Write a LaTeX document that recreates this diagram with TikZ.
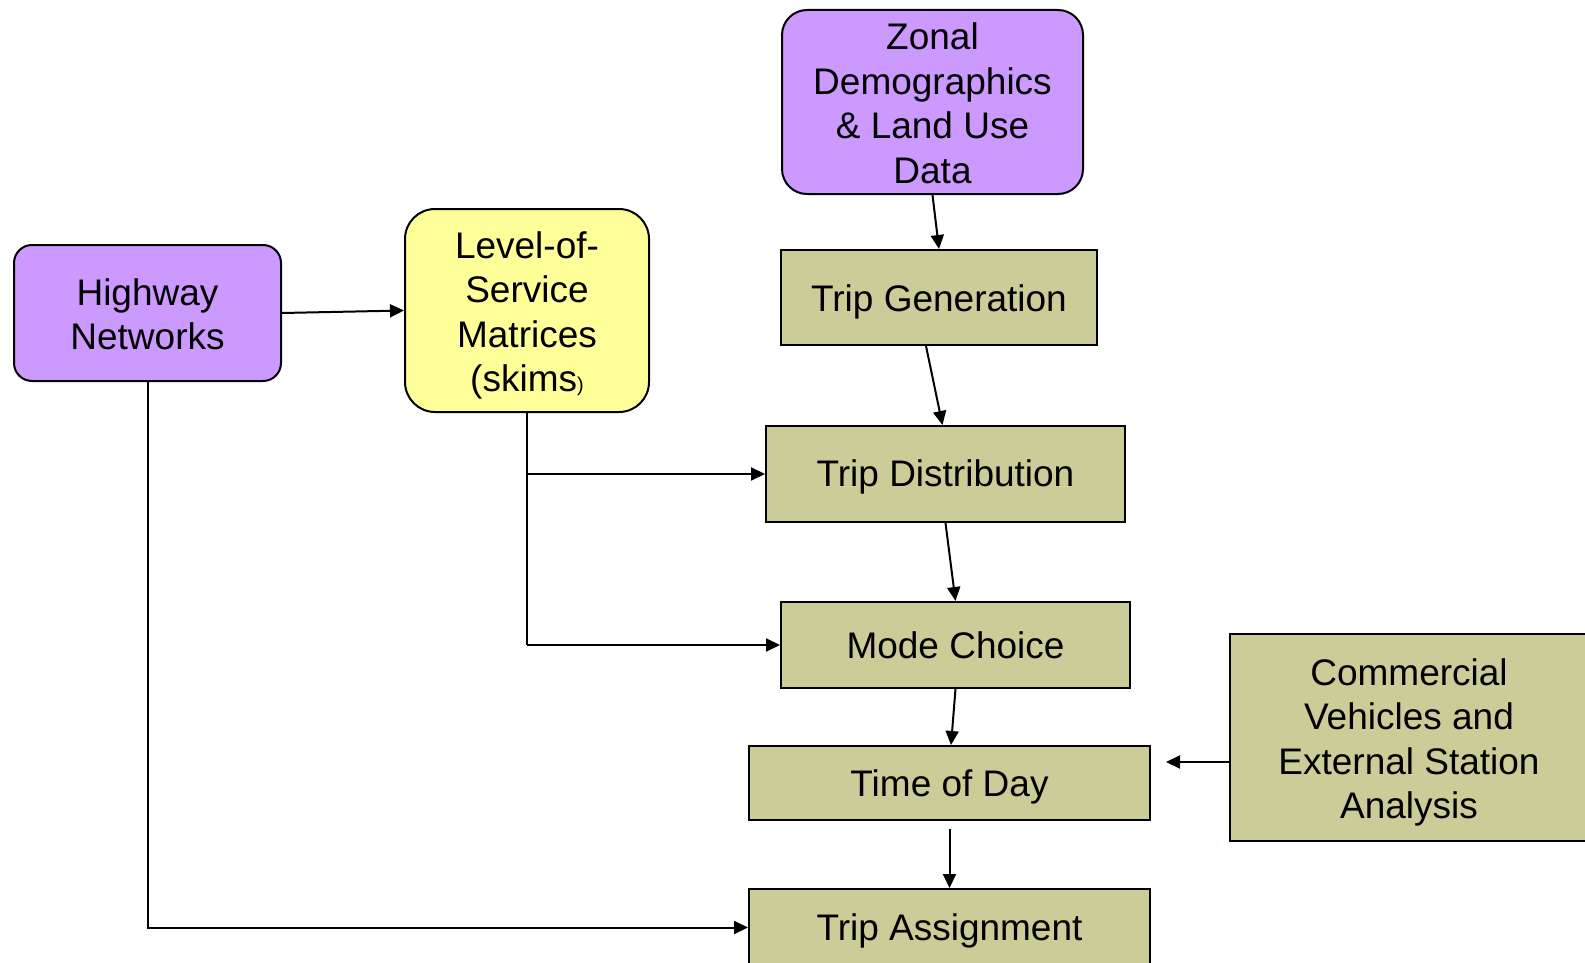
\documentclass[tikz,border=0pt]{standalone}
\usepackage{fontspec}
\setmainfont{Liberation Sans}
\usetikzlibrary{arrows.meta}
\definecolor{purp}{HTML}{CC99FF}
\definecolor{yel}{HTML}{FFFF99}
\definecolor{olive}{HTML}{CCCC99}
\begin{document}
\begin{tikzpicture}[x=1pt,y=-1pt,
  base/.style={draw=black,line width=2pt,inner sep=0pt},
  txt/.style={inner sep=0pt,align=center,font=\fontsize{37}{44.5}\selectfont},
  roundbox/.style={base,rectangle,rounded corners=#1},
  purpbox/.style={roundbox=#1,fill=purp},
  yelbox/.style={roundbox=#1,fill=yel},
  stagebox/.style={base,rectangle,fill=olive},
  conn/.style={line width=2pt,-{Triangle[length=14pt,width=13pt]}},
  plain/.style={line width=2pt}]
\useasboundingbox (0,0) rectangle (1585,963);
\fill[white] (0,0) rectangle (1585,963);

\node[purpbox=25, minimum width=301, minimum height=184,
  label={[txt,yshift=-1.5pt,name=zonalt]center:{Zonal\\Demographics\\\& Land Use\\Data}}]
  (zonal) at (932.5,102) {};
\node[purpbox=18, minimum width=267, minimum height=136,
  label={[txt,yshift=-1.5pt,name=hwt]center:{Highway\\Networks}}]
  (hw) at (147.5,313) {};
\node[yelbox=30, minimum width=244, minimum height=203,
  label={[txt,yshift=-5pt,name=lost]center:{Level-of-\\Service\\Matrices\\(skims{\fontsize{20}{20}\selectfont)}}}]
  (los) at (527,310.5) {};
\node[stagebox, minimum width=316, minimum height=95,
  label={[txt,yshift=-4pt,name=tgt]center:{Trip Generation}}] (tg) at (939,297.5) {};
\node[stagebox, minimum width=359, minimum height=96,
  label={[txt,yshift=-3pt,name=tdt]center:{Trip Distribution}}] (td) at (945.5,474) {};
\node[stagebox, minimum width=349, minimum height=86,
  label={[txt,yshift=0pt,name=mct]center:{Mode Choice}}] (mc) at (955.5,645) {};
\node[stagebox, minimum width=401, minimum height=74,
  label={[txt,yshift=-4pt,name=todt]center:{Time of Day}}] (tod) at (949.5,783) {};
\node[stagebox, minimum width=401, minimum height=77,
  label={[txt,yshift=-3pt,name=tat]center:{Trip Assignment}}] (ta) at (949.5,927.5) {};
\node[stagebox, minimum width=358, minimum height=207,
  label={[txt,yshift=-5pt,name=comt]center:{Commercial\\Vehicles and\\External Station\\Analysis}}]
  (com) at (1409,737.5) {};

\coordinate (todin) at (1166,762);

\draw[conn] (zonal.south) -- (tg.north);
\draw[conn] ([xshift=-13pt]tg.south) -- ([xshift=-3pt]td.north);
\draw[conn] (td.south) -- (mc.north);
\draw[conn] (mc.south) -- ([xshift=1.5pt]tod.north);
\draw[conn] ([yshift=-8pt]tod.south) -- (ta.north);
\draw[conn] (com.west |- todin) -- (todin);
\draw[conn] (hw.east) -- (los.west);
\draw[plain] (los.south) -- (los.south |- mc.west);
\draw[conn] (los.south |- td.west) -- (td.west);
\draw[conn] (los.south |- mc.west) -- (mc.west);
\draw[conn] (hw.south) |- (ta.west);
\end{tikzpicture}
\end{document}
